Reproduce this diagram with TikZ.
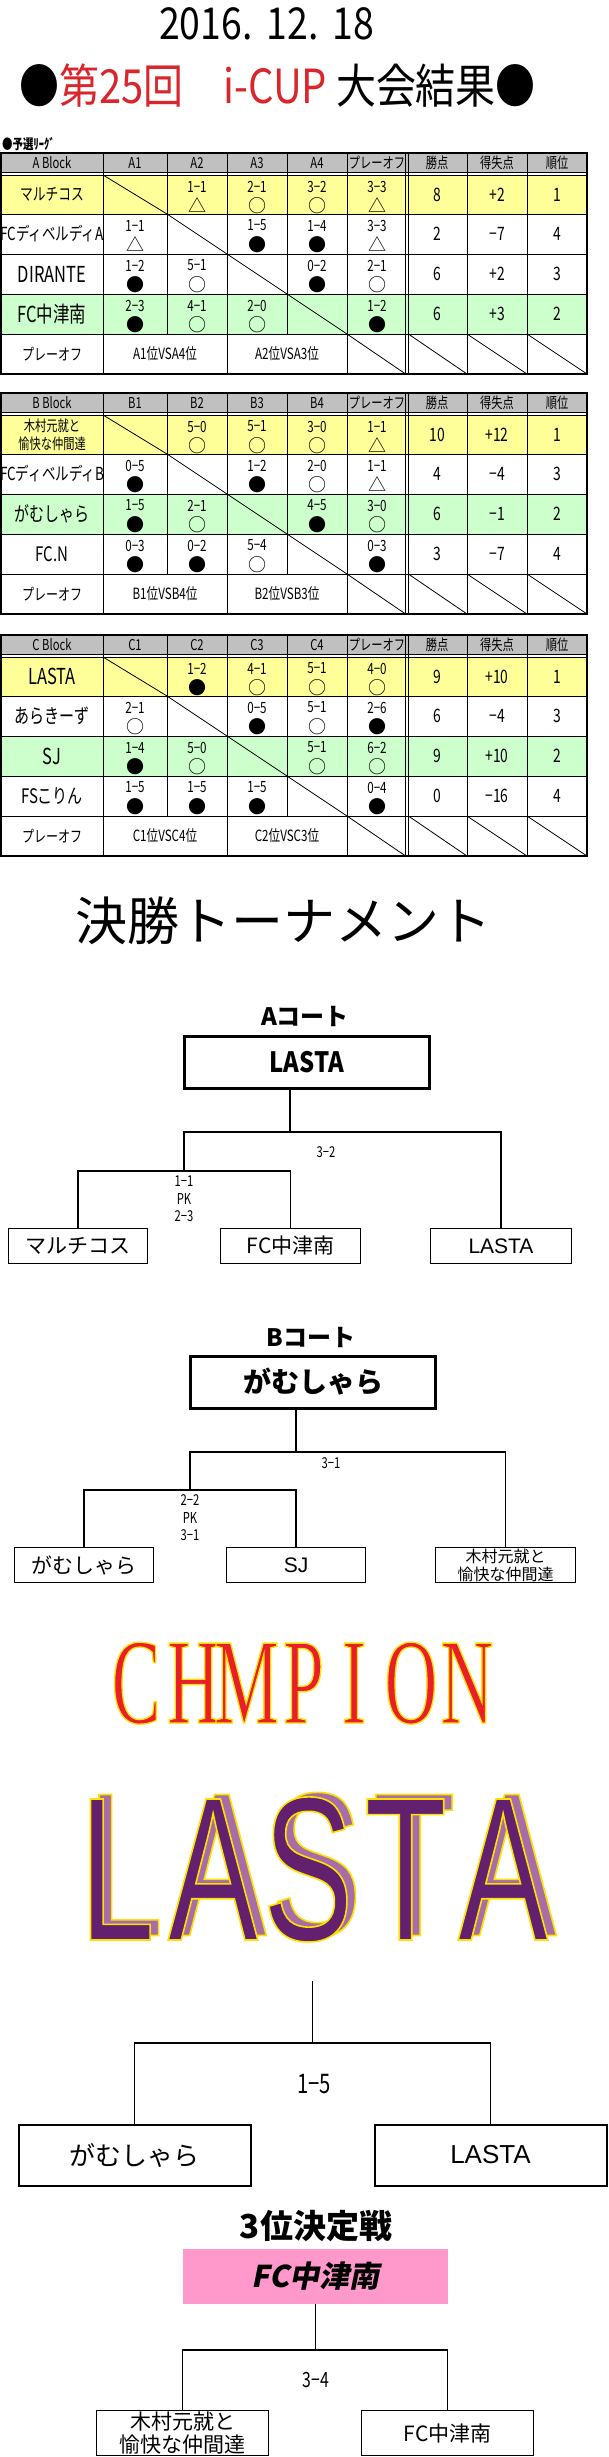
\documentclass[tikz,border=0pt]{standalone}
\usepackage{fontspec}
\setmainfont{Noto Sans CJK JP}
\newfontfamily\jn{Noto Sans CJK JP}
\newfontfamily\jc[FakeStretch=0.75]{Noto Sans CJK JP}
\newfontfamily\jm[FakeStretch=0.85]{Noto Sans CJK JP}
\newfontfamily\jsl[FakeSlant=0.2]{Noto Sans CJK JP}
\newfontfamily\ls{Liberation Sans}
\newfontfamily\bsans[FakeStretch=0.66]{Liberation Sans}
\newfontfamily\bserif[FakeStretch=0.6]{Liberation Serif}
\definecolor{hdgray}{HTML}{C0C0C0}
\definecolor{rowy}{HTML}{FFFF99}
\definecolor{rowg}{HTML}{CCFFCC}
\definecolor{ttlred}{HTML}{D8262C}
\definecolor{chred}{HTML}{E81E2A}
\definecolor{pdark}{HTML}{63206E}
\definecolor{plight}{HTML}{A76DA8}
\definecolor{pinkbox}{HTML}{FF99CC}
\newcommand{\fs}[1]{\fontsize{#1}{#1}\selectfont}
\newcommand{\symW}{○}
\newcommand{\symB}{●}
\newcommand{\symD}{△}
\tikzset{
 gl/.style={line width=0.8pt, black},
 ol/.style={line width=1.5pt, black},
 hd/.style={inner sep=0, font=\jc\fs{15}},
 tm/.style={inner sep=0, font=\jc\fs{20}},
 sc/.style={inner sep=0, font=\jc\fs{15.5}},
 sy/.style={inner sep=0, font=\jn\fs{18}},
 st/.style={inner sep=0, font=\jc\fs{18.5}},
 po/.style={inner sep=0, font=\jc\fs{15.5}},
 tbox/.style={draw, line width=1.4pt, inner sep=0, minimum height=35pt, font=\jn\fs{21}},
 fbox/.style={draw, line width=2pt, inner sep=0, minimum height=61pt, minimum width=232pt, font=\jn\fs{26}},
 wbox/.style={draw, line width=3pt, inner sep=0, minimum height=52pt, minimum width=245pt},
 cn/.style={line width=1.2pt},
 fcn/.style={line width=1.6pt},
 lbl/.style={inner sep=0, font=\jc\fontsize{15}{17.5}\selectfont, align=center},
}
\newcommand{\res}[5]{\node[sc] (#1a) at (#2,#3+11.5) {#4};\node[sy] (#1b) at (#2,#3+30.5) {#5};}
\newcommand{\stats}[5]{\node[st] (#1p) at (437,#2) {#3};\node[st] (#1d) at (497,#2) {#4};\node[st] (#1r) at (557,#2) {#5};}
\newcommand{\gridlines}{%
 \draw[gl] (1,19.6) -- (587,19.6) (1,22) -- (587,22) (1,61) -- (587,61) (1,101) -- (587,101) (1,141) -- (587,141) (1,181) -- (587,181);
 \draw[gl] (103,0) -- (103,221) (167,0) -- (167,181) (227,0) -- (227,221) (287,0) -- (287,181) (347,0) -- (347,221) (405.6,0) -- (405.6,221) (408.4,0) -- (408.4,221) (467,0) -- (467,221) (527,0) -- (527,221);
 \draw[gl] (103,22) -- (167,61) -- (227,101) -- (287,141) -- (347,181) -- (405.6,221);
 \draw[gl] (408.4,181) -- (467,221) (467,181) -- (527,221) (527,181) -- (587,221);
 \draw[ol] (1,0) rectangle (587,221);
}
\newcommand{\hdr}[1]{%
 \node[hd] (#1h0) at (52,10) {#1 Block};
 \node[hd] (#1h1) at (135,10) {#11};
 \node[hd] (#1h2) at (197,10) {#12};
 \node[hd] (#1h3) at (257,10) {#13};
 \node[hd] (#1h4) at (317,10) {#14};
 \node[hd] (#1h5) at (377,10) {プレーオフ};
 \node[hd] (#1h6) at (437,10) {勝点};
 \node[hd] (#1h7) at (497,10) {得失点};
 \node[hd] (#1h8) at (557,10) {順位};
}
\newcommand{\porow}[1]{%
 \node[tm,font=\jc\fs{16}] (#1p0) at (52,201) {プレーオフ};
 \node[po] (#1p1) at (165,201) {#11位VS#14位};
 \node[po] (#1p2) at (287,201) {#12位VS#13位};
}
% outlined letter (yellow stroke round the glyph): name, x, baseline y, colour, font, letter, stroke width
\newcommand{\olet}[7]{%
 \node[anchor=base, inner sep=0, font=#5] (#1) at (#2,#3) {\color{#4}\special{pdf:literal direct 1 0.882 0 RG #7 w 2 Tr}#6\special{pdf:literal direct 0 Tr}};
}
\begin{document}
\begin{tikzpicture}[x=1pt,y=-1pt]
\useasboundingbox[fill=white] (0,0) rectangle (608,2457);
% ---------- titles ----------
\node[inner sep=0, font=\jm\fs{44}] (date) at (266.5,23.5) {2016.\hspace{14pt}12.\hspace{14pt}18};
\node[inner sep=0, font=\jm\fs{47}] (title) at (277.5,85.5) {●\textcolor{ttlred}{第25回　i-CUP} 大会結果●};
\node[anchor=west, inner sep=0, font=\jc\bfseries\fs{14}] (yosen) at (2,144) {●予選ﾘｰｸﾞ};
% ---------- A block ----------
\begin{scope}[shift={(0,153)}]
 \fill[hdgray] (1,0) rectangle (587,19.6);
 \fill[rowy] (1,22) rectangle (587,61);
 \fill[rowg] (1,141) rectangle (587,181);
 \gridlines
 \hdr{A}
 \node[tm,font=\jc\fs{17}] (Ar1) at (52,41.5) {マルチコス};
 \res{A12}{197}{22}{1−1}{\symD}\res{A13}{257}{22}{2−1}{\symW}\res{A14}{317}{22}{3−2}{\symW}\res{A15}{377}{22}{3−3}{\symD}
 \stats{As1}{41.5}{8}{+2}{1}
 \node[tm,font=\jc\fs{18}] (Ar2) at (52,81) {FCディベルディA};
 \res{A21}{135}{61}{1−1}{\symD}\res{A23}{257}{61}{1−5}{\symB}\res{A24}{317}{61}{1−4}{\symB}\res{A25}{377}{61}{3−3}{\symD}
 \stats{As2}{81}{2}{−7}{4}
 \node[tm,font=\jc\fs{22}] (Ar3) at (52,121) {DIRANTE};
 \res{A31}{135}{101}{1−2}{\symB}\res{A32}{197}{101}{5−1}{\symW}\res{A34}{317}{101}{0−2}{\symB}\res{A35}{377}{101}{2−1}{\symW}
 \stats{As3}{121}{6}{+2}{3}
 \node[tm,font=\jc\fs{22}] (Ar4) at (52,161) {FC中津南};
 \res{A41}{135}{141}{2−3}{\symB}\res{A42}{197}{141}{4−1}{\symW}\res{A43}{257}{141}{2−0}{\symW}\res{A45}{377}{141}{1−2}{\symB}
 \stats{As4}{161}{6}{+3}{2}
 \porow{A}
\end{scope}
% ---------- B block ----------
\begin{scope}[shift={(0,393)}]
 \fill[hdgray] (1,0) rectangle (587,19.6);
 \fill[rowy] (1,22) rectangle (587,61);
 \fill[rowg] (1,101) rectangle (587,141);
 \gridlines
 \hdr{B}
 \node[tm,font=\jc\fontsize{15}{18}\selectfont,align=center] (Br1) at (52,42) {木村元就と\\愉快な仲間達};
 \res{B12}{197}{22}{5−0}{\symW}\res{B13}{257}{22}{5−1}{\symW}\res{B14}{317}{22}{3−0}{\symW}\res{B15}{377}{22}{1−1}{\symD}
 \stats{Bs1}{41.5}{10}{+12}{1}
 \node[tm,font=\jc\fs{18}] (Br2) at (52,81) {FCディベルディB};
 \res{B21}{135}{61}{0−5}{\symB}\res{B23}{257}{61}{1−2}{\symB}\res{B24}{317}{61}{2−0}{\symW}\res{B25}{377}{61}{1−1}{\symD}
 \stats{Bs2}{81}{4}{−4}{3}
 \node[tm,font=\jc\fs{20}] (Br3) at (52,121) {がむしゃら};
 \res{B31}{135}{101}{1−5}{\symB}\res{B32}{197}{101}{2−1}{\symW}\res{B34}{317}{101}{4−5}{\symB}\res{B35}{377}{101}{3−0}{\symW}
 \stats{Bs3}{121}{6}{−1}{2}
 \node[tm,font=\jc\fs{20}] (Br4) at (52,161) {FC.N};
 \res{B41}{135}{141}{0−3}{\symB}\res{B42}{197}{141}{0−2}{\symB}\res{B43}{257}{141}{5−4}{\symW}\res{B45}{377}{141}{0−3}{\symB}
 \stats{Bs4}{161}{3}{−7}{4}
 \porow{B}
\end{scope}
% ---------- C block ----------
\begin{scope}[shift={(0,635)}]
 \fill[hdgray] (1,0) rectangle (587,19.6);
 \fill[rowy] (1,22) rectangle (587,61);
 \fill[rowg] (1,101) rectangle (587,141);
 \gridlines
 \hdr{C}
 \node[tm,font=\jc\fs{22}] (Cr1) at (52,41.5) {LASTA};
 \res{C12}{197}{22}{1−2}{\symB}\res{C13}{257}{22}{4−1}{\symW}\res{C14}{317}{22}{5−1}{\symW}\res{C15}{377}{22}{4−0}{\symW}
 \stats{Cs1}{41.5}{9}{+10}{1}
 \node[tm,font=\jc\fs{20}] (Cr2) at (52,81) {あらきーず};
 \res{C21}{135}{61}{2−1}{\symW}\res{C23}{257}{61}{0−5}{\symB}\res{C24}{317}{61}{5−1}{\symW}\res{C25}{377}{61}{2−6}{\symB}
 \stats{Cs2}{81}{6}{−4}{3}
 \node[tm,font=\jc\fs{22}] (Cr3) at (52,121) {SJ};
 \res{C31}{135}{101}{1−4}{\symB}\res{C32}{197}{101}{5−0}{\symW}\res{C34}{317}{101}{5−1}{\symW}\res{C35}{377}{101}{6−2}{\symW}
 \stats{Cs3}{121}{9}{+10}{2}
 \node[tm,font=\jc\fs{20}] (Cr4) at (52,161) {FSこりん};
 \res{C41}{135}{141}{1−5}{\symB}\res{C42}{197}{141}{1−5}{\symB}\res{C43}{257}{141}{1−5}{\symB}\res{C45}{377}{141}{0−4}{\symB}
 \stats{Cs4}{161}{0}{−16}{4}
 \porow{C}
\end{scope}
% ---------- tournament ----------
\node[inner sep=0, font=\jn\fs{52}] (kessho) at (283,921) {決勝トーナメント};
% A court
\node[inner sep=0, font=\jn\bfseries\fs{24}] (acourt) at (305,1016) {Aコート};
\node[wbox, font=\jm\bfseries\fs{28}] (atop) at (307,1062.5) {LASTA};
\node[tbox, minimum width=139pt] (mar) at (78,1246) {マルチコス};
\node[tbox, minimum width=140pt] (fcn) at (290.5,1246) {FC中津南};
\node[tbox, minimum width=141pt, font=\ls\fs{21}] (lasr) at (501,1246) {LASTA};
\coordinate (aj1) at (184,1171);
\coordinate (aj2) at (290,1132);
\draw[cn] (mar.north) |- (aj1) -| (fcn.north);
\draw[cn] (aj1) |- (aj2) -| (lasr.north);
\draw[cn] (aj2) -- (aj2 |- atop.south);
\node[lbl] (a32) at (326,1152) {3−2};
\node[lbl] (apk) at (184,1199) {1−1\\PK\\2−3};
% B court
\node[inner sep=0, font=\jn\bfseries\fs{24}] (bcourt) at (311,1337) {Bコート};
\node[wbox, font=\jn\bfseries\fs{28}] (btop) at (313,1382) {がむしゃら};
\node[tbox, minimum width=139pt] (gam) at (84,1565) {がむしゃら};
\node[tbox, minimum width=139pt, font=\ls\fs{21}] (sj) at (296,1565) {SJ};
\node[tbox, minimum width=140pt, font=\jn\fontsize{16}{18}\selectfont, align=center] (kim) at (505.5,1565) {木村元就と\\愉快な仲間達};
\coordinate (bj1) at (190,1490);
\coordinate (bj2) at (296,1452);
\draw[cn] (gam.north) |- (bj1) -| (sj.north);
\draw[cn] (bj1) |- (bj2) -| (kim.north);
\draw[cn] (bj2) -- (bj2 |- btop.south);
\node[lbl] (b31) at (331,1463) {3−1};
\node[lbl] (bpk) at (190,1518) {2−2\\PK\\3−1};
% ---------- champion ----------
\olet{cC}{136}{1723}{chred}{\bserif\fs{122}}{C}{1.3}
\olet{cH}{193.5}{1723}{chred}{\bserif\fs{122}}{H}{1.3}
\olet{cM}{246.5}{1723}{chred}{\bserif\fs{122}}{M}{1.3}
\olet{cP}{303.5}{1723}{chred}{\bserif\fs{122}}{P}{1.3}
\olet{cI}{354}{1723}{chred}{\bserif\fs{122}}{I}{1.3}
\olet{cO}{411}{1723}{chred}{\bserif\fs{122}}{O}{1.3}
\olet{cN}{467}{1723}{chred}{\bserif\fs{122}}{N}{1.3}
\olet{sL}{125.5}{1935.5}{plight}{\bsans\fs{205}}{L}{1.6}
\olet{sA}{221.5}{1935.5}{plight}{\bsans\fs{205}}{A}{1.6}
\olet{sS}{316.5}{1935.5}{plight}{\bsans\fs{205}}{S}{1.6}
\olet{sT}{414}{1935.5}{plight}{\bsans\fs{205}}{T}{1.6}
\olet{sB}{511.5}{1935.5}{plight}{\bsans\fs{205}}{A}{1.6}
\olet{mL}{117}{1940}{pdark}{\bsans\fs{205}}{L}{1.6}
\olet{mA}{213}{1940}{pdark}{\bsans\fs{205}}{A}{1.6}
\olet{mS}{308}{1940}{pdark}{\bsans\fs{205}}{S}{1.6}
\olet{mT}{405.5}{1940}{pdark}{\bsans\fs{205}}{T}{1.6}
\olet{mB}{503}{1940}{pdark}{\bsans\fs{205}}{A}{1.6}
% final
\coordinate (ftop) at (312.5,1981);
\coordinate (fj) at (312.5,2043);
\node[fbox] (fg) at (134.5,2155) {がむしゃら};
\node[fbox, font=\ls\fs{26}] (fl) at (490.5,2155) {LASTA};
\draw[fcn] (fg.north) |- (fj) -| (fl.north);
\draw[fcn] (ftop) -- (fj);
\node[inner sep=0, font=\jc\fs{27}] (f15) at (314,2084) {1−5};
% third place
\node[inner sep=0, font=\jn\bfseries\fs{33}] (third) at (316,2226) {3位決定戦};
\node[fill=pinkbox, inner sep=0, minimum width=265pt, minimum height=55pt, font=\jsl\bfseries\fs{30}] (pink) at (315.5,2276.5) {FC中津南};
\node[draw, line width=1.4pt, inner sep=0, minimum width=172pt, minimum height=45pt, font=\jn\fontsize{21}{23}\selectfont, align=center] (tk) at (182.5,2433) {木村元就と\\愉快な仲間達};
\node[draw, line width=1.4pt, inner sep=0, minimum width=172pt, minimum height=45pt, font=\jn\fs{21}] (tf) at (447.5,2433) {FC中津南};
\coordinate (tj) at (315.5,2350);
\draw[fcn] (tk.north) |- (tj) -| (tf.north);
\draw[fcn] (pink.south) -- (tj);
\node[inner sep=0, font=\jc\fs{21}] (t34) at (316,2380) {3−4};
\end{tikzpicture}
\end{document}
